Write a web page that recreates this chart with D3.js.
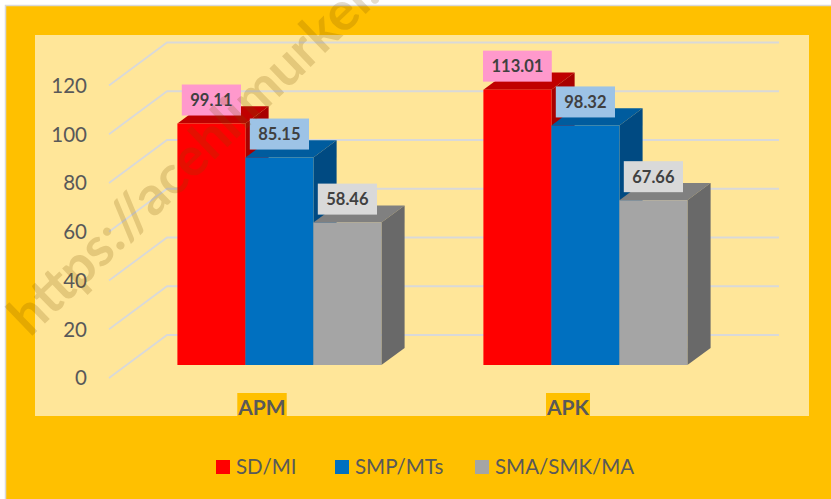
<!DOCTYPE html>
<html>
<head>
<meta charset="utf-8">
<script src="https://cdn.jsdelivr.net/npm/d3@7"></script>
<style>
  html, body { margin: 0; padding: 0; background: #fff; }
  text { font-family: Lato, "Liberation Sans", sans-serif; }
</style>
</head>
<body>
<div id="chart"></div>
<script>
// data
var categories = ["APM", "APK"];
var seriesNames = ["SD/MI", "SMP/MTs", "SMA/SMK/MA"];
var sdmi = [99.11, 113.01];
var smpMts = [85.15, 98.32];
var smaSmkMa = [58.46, 67.66];
var yTicks = [0, 20, 40, 60, 80, 100, 120];

var seriesValues = [sdmi, smpMts, smaSmkMa];

// looks
var front = ["#FF0000", "#0070C0", "#A5A5A5"],
    top_ = ["#C00000", "#005C9E", "#808080"],
    side = ["#A80000", "#004A82", "#696969"],
    labelFill = ["#FF99CC", "#9DC3E6", "#D9D9D9"];

var width = 831, height = 499;
var depthDX = 58, depthDY = -43, floorY = 378;
var barD0 = 0.3, barD1 = 0.7;

var svg = d3.select("#chart").append("svg")
  .attr("width", width).attr("height", height);

// outer frame + plot panel
svg.append("rect").attr("x", 5.5).attr("y", 5.5).attr("width", width).attr("height", height)
  .attr("fill", "#FFC000").attr("stroke", "#D9D9D9").attr("stroke-width", 1.5);
svg.append("rect").attr("x", 35).attr("y", 35).attr("width", 774).attr("height", 381)
  .attr("fill", "#FFE699");

var x0 = d3.scaleBand().domain(categories).range([109, 721])
  .paddingInner(1 / 3).paddingOuter(1 / 6);
var x1 = d3.scaleBand().domain(seriesNames).range([0, x0.bandwidth()]);
var y = d3.scaleLinear().domain([0, 120]).range([0, 292.5]);

// front x, value, depth -> screen point
function proj(xf, v, d) {
  return [xf + d * depthDX, floorY + d * depthDY - y(v)];
}
function poly(pts) { return "M" + pts.map(function(p) { return p.join(","); }).join("L") + "Z"; }

var xLeft = x0.range()[0], xRight = x0.range()[1];

// gridlines: side wall diagonal + back wall
svg.append("g").selectAll("path").data(yTicks).join("path")
  .attr("d", function(t) {
    var a = proj(xLeft, t, 0), b = proj(xLeft, t, 1), c = proj(xRight, t, 1);
    return "M" + a + "L" + b + "L" + c;
  })
  .attr("fill", "none").attr("stroke", "#D9D9D9").attr("stroke-width", 1.8);

// y axis labels
svg.append("g").selectAll("text").data(yTicks).join("text")
  .attr("x", function(t) { return proj(xLeft, t, 0)[0] - 22; })
  .attr("y", function(t) { return proj(xLeft, t, 0)[1]; })
  .attr("dy", "0.36em")
  .attr("text-anchor", "end")
  .attr("font-size", 20.5).attr("fill", "#595959")
  .text(function(t) { return t; });

// bars
var bars = [];
categories.forEach(function(c, ci) {
  seriesNames.forEach(function(s, si) {
    bars.push({ cat: c, series: s, si: si, value: seriesValues[si][ci] });
  });
});

var barG = svg.append("g");
bars.forEach(function(b) {
  var xl = x0(b.cat) + x1(b.series), xr = xl + x1.bandwidth();
  var g = barG.append("g");
  g.append("path")
    .attr("d", poly([proj(xl, b.value, barD0), proj(xr, b.value, barD0), proj(xr, b.value, barD1), proj(xl, b.value, barD1)]))
    .attr("fill", top_[b.si]);
  g.append("path")
    .attr("d", poly([proj(xr, b.value, barD0), proj(xr, 0, barD0), proj(xr, 0, barD1), proj(xr, b.value, barD1)]))
    .attr("fill", side[b.si]);
  g.append("path")
    .attr("d", poly([proj(xl, b.value, barD0), proj(xr, b.value, barD0), proj(xr, 0, barD0), proj(xl, 0, barD0)]))
    .attr("fill", front[b.si]);
});

// data labels
var labG = svg.append("g");
bars.forEach(function(b) {
  var xl = x0(b.cat) + x1(b.series);
  var p = proj(xl + x1.bandwidth() / 2, b.value, barD0);
  var cy = p[1] - 23.5;
  var g = labG.append("g");
  var box = g.append("rect");
  var t = g.append("text")
    .attr("x", p[0]).attr("y", cy).attr("dy", "0.36em")
    .attr("text-anchor", "middle")
    .attr("font-size", 16.5).attr("font-weight", "bold").attr("fill", "#404040")
    .text(b.value.toFixed(2));
  var w = t.node().getComputedTextLength() + 17;
  box.attr("x", p[0] - w / 2).attr("y", cy - 15.5).attr("width", w).attr("height", 31)
    .attr("fill", labelFill[b.si]);
});

// category labels
var catG = svg.append("g");
categories.forEach(function(c) {
  var cx = x0(c) + x0.bandwidth() / 2;
  var g = catG.append("g");
  var box = g.append("rect");
  var t = g.append("text")
    .attr("x", cx).attr("y", 415)
    .attr("text-anchor", "middle")
    .attr("font-size", 21).attr("font-weight", "bold").attr("fill", "#595959")
    .text(c);
  var w = t.node().getComputedTextLength() + 2;
  box.attr("x", cx - w / 2).attr("y", 393).attr("width", w).attr("height", 23)
    .attr("fill", "#FFC000");
});

// legend
var legendX = [216, 335, 475];
var leg = svg.append("g");
seriesNames.forEach(function(s, i) {
  leg.append("rect").attr("x", legendX[i]).attr("y", 460).attr("width", 14).attr("height", 14)
    .attr("fill", front[i]);
  leg.append("text").attr("x", legendX[i] + 20).attr("y", 467).attr("dy", "0.36em")
    .attr("font-size", 20.5).attr("fill", "#595959")
    .text(s);
});

// watermark
svg.append("text")
  .attr("transform", "translate(30,338) rotate(-44)")
  .attr("font-size", 54).attr("font-weight", "bold")
  .attr("fill", "#785000").attr("fill-opacity", 0.2)
  .text("https://acehlimurkel.com");
</script>
</body>
</html>
